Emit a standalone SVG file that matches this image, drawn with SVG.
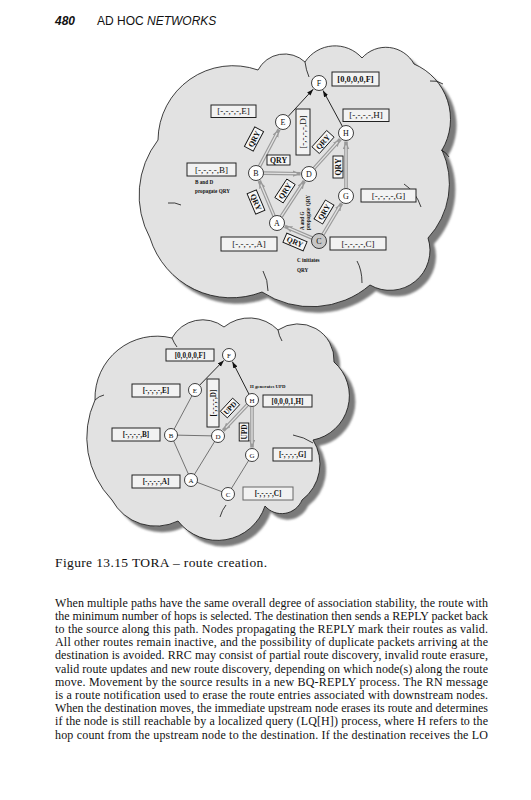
<svg xmlns="http://www.w3.org/2000/svg" width="531" height="800" viewBox="0 0 531 800">
<style>
.cloud{fill:#e2e2e2;stroke:#111;stroke-width:0.8}
.shadow{fill:#7a7a7a;filter:url(#blur)}
.inner{fill:none;stroke:#111;stroke-width:0.8}
.nd{fill:#fff;stroke:#111;stroke-width:0.8}
.ndc{fill:#c6c6c6;stroke:#111;stroke-width:0.8}
.nt{font-family:"Liberation Serif",serif;font-size:8px;text-anchor:middle;fill:#111}
.nt2{font-family:"Liberation Serif",serif;font-size:7px;text-anchor:middle;fill:#111}
.lb{fill:#f2f2f2;stroke:#222;stroke-width:1}
.lt{font-family:"Liberation Serif",serif;font-size:9px;text-anchor:middle;fill:#111}
.lt2{font-family:"Liberation Serif",serif;font-size:7.2px;font-weight:bold;text-anchor:middle;fill:#111}
.qb{fill:#f6f6f6;stroke:#111;stroke-width:0.9}
.qt{font-family:"Liberation Serif",serif;font-size:7.8px;font-weight:bold;text-anchor:middle;fill:#111}
.ut{font-family:"Liberation Serif",serif;font-size:7.4px;font-weight:bold;text-anchor:middle;fill:#111}
.sm{font-family:"Liberation Serif",serif;font-size:5.2px;font-weight:bold;fill:#111}
.blk{stroke:#111;stroke-width:0.9;fill:none;marker-end:url(#ab)}
.d1{stroke:#9a9a9a;stroke-width:3.6;fill:none;marker-end:url(#ag)}
.d2{stroke:#e2e2e2;stroke-width:1.3;fill:none}
.pl{stroke:#555;stroke-width:0.8;fill:none}
.body{font-family:"Liberation Serif",serif;font-size:12px;fill:#111}
.hd{font-family:"Liberation Sans",sans-serif;font-size:12px;fill:#111}
</style>
<defs>
<filter id="blur" x="-10%" y="-10%" width="120%" height="120%"><feGaussianBlur stdDeviation="1.2"/></filter>
<marker id="ab" markerUnits="userSpaceOnUse" markerWidth="7" markerHeight="5" refX="6.5" refY="2.3" orient="auto"><path d="M0,0 L6.5,2.3 L0,4.6 z" fill="#111"/></marker>
<marker id="ag" markerUnits="userSpaceOnUse" markerWidth="8" markerHeight="7" refX="7.5" refY="3.2" orient="auto"><path d="M0,0 L7.5,3.2 L0,6.4 z" fill="#9a9a9a"/></marker>
<path id="cloudTop" d="M150,238 A90,90 0 0 1 158,140 A75,75 0 0 1 258,70 A30,30 0 0 1 305,62 A36,36 0 0 1 362,58 A32,32 0 0 1 414,64 A60,60 0 0 1 442,150 A80,80 0 0 1 428,238 A40,40 0 0 1 370,285 A90,90 0 0 1 262,292 A85,85 0 0 1 150,238 Z"/>
<path id="cloudBot" d="M112,500 A90,90 0 0 1 95,400 A62,62 0 0 1 172,338 A35,35 0 0 1 224,327 A40,40 0 0 1 278,330 A36,36 0 0 1 334,362 A45,45 0 0 1 313,440 A45,45 0 0 1 302,500 A22,22 0 0 1 265,506 A50,50 0 0 1 178,521 A50,50 0 0 1 112,500 Z"/>
</defs>
<rect width="531" height="800" fill="#fff"/>

<g id="header">
<text class="hd" x="55" y="25" font-weight="bold" font-style="italic">480</text>
<text class="hd" x="97" y="25">AD HOC <tspan font-style="italic">NETWORKS</tspan></text>
</g>

<g id="cloud-top">
<use href="#cloudTop" class="shadow" transform="translate(6,6)"/>
<use href="#cloudTop" class="cloud"/>
<path class="inner" d="M404,184 Q416,192 421,207"/>
<path class="inner" d="M263,271 Q268,280 268,291"/>
<path class="inner" d="M357,261 Q362,270 362,283"/>
<path class="inner" d="M430,81 Q437,80 443,84"/>
<path class="inner" d="M441,150 Q446,152 449,157"/>
<path class="inner" d="M168,203 Q175,202 181,205"/>
<path class="inner" d="M305,62 Q306,70 309,77"/>
</g>

<g id="cloud-bottom">
<use href="#cloudBot" class="shadow" transform="translate(6,6)"/>
<use href="#cloudBot" class="cloud"/>
<path class="inner" d="M95,400 Q99,396 104,395"/>
<path class="inner" d="M293,435 Q304,437 313,443"/>
<path class="inner" d="M220,517 Q222,510 226,505"/>
<path class="inner" d="M278,330 Q279,336 282,341"/>
<path class="inner" d="M172,338 Q174,343 177,347"/>
</g>

<g id="connectors">
<line class="blk" x1="288.1" y1="116.5" x2="313.2" y2="89.2"/>
<line class="blk" x1="342.4" y1="126.4" x2="323.0" y2="90.5"/>
<line class="d1" x1="259.5" y1="166.4" x2="279.0" y2="129.5"/><line class="d2" x1="259.5" y1="166.4" x2="277.1" y2="133.0"/>
<line class="d1" x1="263.5" y1="173.1" x2="300.5" y2="173.8"/><line class="d2" x1="263.5" y1="173.1" x2="296.5" y2="173.7"/>
<line class="d1" x1="274.1" y1="216.1" x2="259.3" y2="180.8"/><line class="d2" x1="274.1" y1="216.1" x2="260.8" y2="184.5"/>
<line class="d1" x1="281.1" y1="216.7" x2="304.4" y2="181.1"/><line class="d2" x1="281.1" y1="216.7" x2="302.2" y2="184.5"/>
<line class="d1" x1="312.1" y1="238.0" x2="284.8" y2="226.3"/><line class="d2" x1="312.1" y1="238.0" x2="288.5" y2="227.9"/>
<line class="d1" x1="322.9" y1="234.6" x2="341.6" y2="203.3"/><line class="d2" x1="322.9" y1="234.6" x2="339.5" y2="206.7"/>
<line class="d1" x1="314.0" y1="168.4" x2="340.3" y2="139.3"/><line class="d2" x1="314.0" y1="168.4" x2="337.6" y2="142.3"/>
<line class="d1" x1="346" y1="188.5" x2="346" y2="141.5"/><line class="d2" x1="346" y1="188.5" x2="346" y2="145.5"/>

<line class="pl" x1="171" y1="435" x2="195" y2="390"/>
<line class="pl" x1="171" y1="435" x2="218" y2="436"/>
<line class="pl" x1="171" y1="435" x2="191" y2="480"/>
<line class="pl" x1="191" y1="480" x2="218" y2="436"/>
<line class="pl" x1="191" y1="480" x2="228" y2="494"/>
<line class="pl" x1="228" y1="494" x2="252" y2="455"/>
<line class="blk" x1="199.5" y1="385.3" x2="223.8" y2="360.4"/>
<line class="blk" x1="249.0" y1="394.2" x2="232.4" y2="361.7"/>
<line class="d1" x1="247.5" y1="404.7" x2="223.2" y2="430.5"/><line class="d2" x1="247.5" y1="404.7" x2="225.9" y2="427.6"/>
<line class="d1" x1="252" y1="406.5" x2="252" y2="447.5"/><line class="d2" x1="252" y1="406.5" x2="252" y2="443.5"/>
</g>

<g id="top-nodes">
<g id="t-F"><circle class="nd" cx="319" cy="83" r="7.5"/><text class="nt" x="319" y="85.8">F</text></g>
<g id="t-E"><circle class="nd" cx="283" cy="122" r="7.5"/><text class="nt" x="283" y="124.8">E</text></g>
<g id="t-H"><circle class="nd" cx="346" cy="133" r="7.5"/><text class="nt" x="346" y="135.8">H</text></g>
<g id="t-B"><circle class="nd" cx="256" cy="173" r="7.5"/><text class="nt" x="256" y="175.8">B</text></g>
<g id="t-D"><circle class="nd" cx="309" cy="174" r="7.5"/><text class="nt" x="309" y="176.8">D</text></g>
<g id="t-G"><circle class="nd" cx="346" cy="196" r="7.5"/><text class="nt" x="346" y="198.8">G</text></g>
<g id="t-A"><circle class="nd" cx="277" cy="223" r="7.5"/><text class="nt" x="277" y="225.8">A</text></g>
<g id="t-C"><circle class="ndc" cx="319" cy="241" r="7.5"/><text class="nt" x="319" y="243.8">C</text></g>
</g>

<g id="top-labels">
<g id="tl-F"><rect class="lb" x="332" y="72" width="47" height="14"/><text class="lt" x="355.5" y="82.2" style="font-weight:bold;font-size:8.5px">[0,0,0,0,F]</text></g>
<g id="tl-E"><rect class="lb" x="211" y="105" width="45" height="12.5"/><text class="lt" x="233.5" y="114.3">[-,-,-,-,E]</text></g>
<g id="tl-H"><rect class="lb" x="343" y="109" width="46" height="12.5"/><text class="lt" x="366" y="118.3">[-,-,-,-,H]</text></g>
<g id="tl-D"><rect class="lb" x="296" y="109" width="14" height="46"/><text class="lt" transform="translate(306.2,132) rotate(-90)">[-,-,-,-,D]</text></g>
<g id="tl-B"><rect class="lb" x="187" y="163" width="49" height="13"/><text class="lt" x="211.5" y="172.8">[-,-,-,-,B]</text></g>
<g id="tl-G"><rect class="lb" x="361" y="189" width="55" height="13"/><text class="lt" x="388.5" y="198.8">[-,-,-,-,G]</text></g>
<g id="tl-A"><rect class="lb" x="221" y="237" width="56" height="14"/><text class="lt" x="249" y="247.3">[-,-,-,-,A]</text></g>
<g id="tl-C"><rect class="lb" x="330" y="237" width="56" height="13"/><text class="lt" x="358" y="246.8">[-,-,-,-,C]</text></g>
<g id="q1" transform="translate(254,139) rotate(-62)"><rect class="qb" x="-11" y="-5" width="22" height="10"/><text class="qt" x="0" y="2.7">QRY</text></g>
<g id="q2" transform="translate(278.5,160)"><rect class="qb" x="-11.5" y="-5" width="23" height="10"/><text class="qt" x="0" y="2.7">QRY</text></g>
<g id="q3" transform="translate(323,142) rotate(-48)"><rect class="qb" x="-11" y="-5" width="22" height="10"/><text class="qt" x="0" y="2.7">QRY</text></g>
<g id="q4" transform="translate(338,167) rotate(-90)"><rect class="qb" x="-11" y="-5" width="22" height="10"/><text class="qt" x="0" y="2.7">QRY</text></g>
<g id="q5" transform="translate(256,202) rotate(67)"><rect class="qb" x="-11" y="-5" width="22" height="10"/><text class="qt" x="0" y="2.7">QRY</text></g>
<g id="q6" transform="translate(285,191) rotate(-57)"><rect class="qb" x="-11" y="-5" width="22" height="10"/><text class="qt" x="0" y="2.7">QRY</text></g>
<g id="q7" transform="translate(324,212) rotate(-59)"><rect class="qb" x="-11" y="-5" width="22" height="10"/><text class="qt" x="0" y="2.7">QRY</text></g>
<g id="q8" transform="translate(295,242) rotate(23)"><rect class="qb" x="-11" y="-5" width="22" height="10"/><text class="qt" x="0" y="2.7">QRY</text></g>
<text class="sm" x="195" y="183.5">B and D</text>
<text class="sm" x="195" y="192.5">propagate QRY</text>
<text class="sm" x="297" y="262">C initiates</text>
<text class="sm" x="297" y="272">QRY</text>
<text class="sm" transform="translate(303.5,230) rotate(-90)">A and G</text>
<text class="sm" transform="translate(309.5,230) rotate(-90)">propagate QRY</text>
</g>

<g id="bottom-nodes">
<g id="b-F"><circle class="nd" cx="229" cy="355" r="6.5"/><text class="nt2" x="229" y="357.5">F</text></g>
<g id="b-E"><circle class="nd" cx="195" cy="390" r="6.5"/><text class="nt2" x="195" y="392.5">E</text></g>
<g id="b-H"><circle class="nd" cx="252" cy="400" r="6.5"/><text class="nt2" x="252" y="402.5">H</text></g>
<g id="b-B"><circle class="nd" cx="171" cy="435" r="6.5"/><text class="nt2" x="171" y="437.5">B</text></g>
<g id="b-D"><circle class="nd" cx="218" cy="436" r="6.5"/><text class="nt2" x="218" y="438.5">D</text></g>
<g id="b-G"><circle class="nd" cx="252" cy="455" r="6.5"/><text class="nt2" x="252" y="457.5">G</text></g>
<g id="b-A"><circle class="nd" cx="191" cy="480" r="6.5"/><text class="nt2" x="191" y="482.5">A</text></g>
<g id="b-C"><circle class="nd" cx="228" cy="494" r="6.5"/><text class="nt2" x="228" y="496.5">C</text></g>
</g>

<g id="bottom-labels">
<g id="bl-F"><rect class="lb" x="166" y="349" width="48" height="12"/><text class="lt2" x="190" y="357.5">[0,0,0,0,F]</text></g>
<g id="bl-E"><rect class="lb" x="132" y="384" width="48" height="13"/><text class="lt2" x="156" y="393">[-,-,-,-,E]</text></g>
<g id="bl-D"><rect class="lb" x="207" y="379" width="12" height="48"/><text class="lt2" transform="translate(215.5,403) rotate(-90)">[-,-,-,-,D]</text></g>
<g id="bl-H"><rect class="lb" x="263" y="395" width="49" height="12"/><text class="lt2" x="287.5" y="403.5">[0,0,0,1,H]</text></g>
<g id="bl-B"><rect class="lb" x="112" y="428" width="48" height="13"/><text class="lt2" x="136" y="437">[-,-,-,-,B]</text></g>
<g id="bl-G"><rect class="lb" x="273" y="448" width="39" height="13"/><text class="lt2" x="292.5" y="457">[-,-,-,-,G]</text></g>
<g id="bl-A"><rect class="lb" x="132" y="475" width="48" height="13"/><text class="lt2" x="156" y="484">[-,-,-,-,A]</text></g>
<g id="bl-C"><rect class="lb" x="243" y="487" width="50" height="13" style="stroke:#666"/><text class="lt2" x="268" y="496">[-,-,-,-,C]</text></g>
<g id="u1" transform="translate(230,408) rotate(-47)"><rect class="qb" x="-9" y="-4.8" width="18" height="9.6"/><text class="ut" x="0" y="2.6">UPD</text></g>
<g id="u2" transform="translate(244,432) rotate(-90)"><rect class="qb" x="-9" y="-4.8" width="18" height="9.6"/><text class="ut" x="0" y="2.6">UPD</text></g>
<text class="sm" x="250" y="388" style="font-size:4.8px">H generates UPD</text>
</g>

<g id="caption">
<text class="body" x="55" y="567" style="font-size:13.5px" textLength="212" lengthAdjust="spacing">Figure 13.15  TORA – route creation.</text>
</g>

<g id="paragraph">
<text class="body" x="55" y="606.5" textLength="433" lengthAdjust="spacing">When multiple paths have the same overall degree of association stability, the route with</text>
<text class="body" x="55" y="619.7" textLength="433" lengthAdjust="spacing">the minimum number of hops is selected. The destination then sends a REPLY packet back</text>
<text class="body" x="55" y="632.9" textLength="433" lengthAdjust="spacing">to the source along this path. Nodes propagating the REPLY mark their routes as valid.</text>
<text class="body" x="55" y="646.1" textLength="433" lengthAdjust="spacing">All other routes remain inactive, and the possibility of duplicate packets arriving at the</text>
<text class="body" x="55" y="659.3" textLength="433" lengthAdjust="spacing">destination is avoided. RRC may consist of partial route discovery, invalid route erasure,</text>
<text class="body" x="55" y="672.5" textLength="433" lengthAdjust="spacing">valid route updates and new route discovery, depending on which node(s) along the route</text>
<text class="body" x="55" y="685.7" textLength="433" lengthAdjust="spacing">move. Movement by the source results in a new BQ-REPLY process. The RN message</text>
<text class="body" x="55" y="698.9" textLength="433" lengthAdjust="spacing">is a route notification used to erase the route entries associated with downstream nodes.</text>
<text class="body" x="55" y="712.1" textLength="433" lengthAdjust="spacing">When the destination moves, the immediate upstream node erases its route and determines</text>
<text class="body" x="55" y="725.3" textLength="433" lengthAdjust="spacing">if the node is still reachable by a localized query (LQ[H]) process, where H refers to the</text>
<text class="body" x="55" y="738.5" textLength="433" lengthAdjust="spacing">hop count from the upstream node to the destination. If the destination receives the LO</text>
</g>
</svg>
